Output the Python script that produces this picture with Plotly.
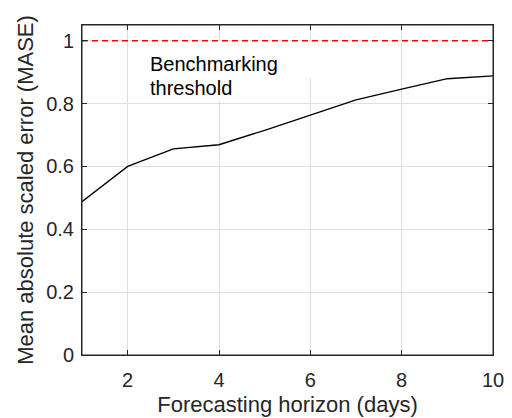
import plotly.graph_objects as go

horizon = [1, 2, 3, 4, 5, 6, 7, 8, 9, 10]
mase = [0.488, 0.600, 0.656, 0.669, 0.715, 0.764, 0.812, 0.846, 0.879, 0.888]
threshold = 1.0
x_ticks = [2, 4, 6, 8, 10]
y_ticks = [0, 0.2, 0.4, 0.6, 0.8, 1]
y_tick_labels = ["0", "0.2", "0.4", "0.6", "0.8", "1"]

FONT = "Liberation Sans, Arial, Helvetica, sans-serif"
AX = "#262626"
GRID = "#dfdfdf"

fig = go.Figure()
fig.add_trace(go.Scatter(x=[1, 10], y=[threshold, threshold], mode="lines",
                         line=dict(color="#ff0000", width=1.5, dash="6px,4px"),
                         hoverinfo="skip", showlegend=False))
fig.add_trace(go.Scatter(x=horizon, y=mase, mode="lines",
                         line=dict(color="#000000", width=1.3),
                         showlegend=False))

# white background behind the label text (covers grid lines)
fig.add_shape(type="rect", xref="x", yref="y", x0=2.2, x1=6.3, y0=0.882, y1=0.994,
              fillcolor="white", line=dict(width=0), layer="between")
fig.add_shape(type="rect", xref="x", yref="y", x0=2.2, x1=4.6, y0=0.809, y1=0.882,
              fillcolor="white", line=dict(width=0), layer="between")
# axes box
fig.add_shape(type="rect", xref="paper", yref="paper", x0=0, x1=1, y0=0, y1=1,
              line=dict(color=AX, width=1), fillcolor="rgba(0,0,0,0)", layer="above")

fig.add_annotation(x=2.445, y=0.927, xref="x", yref="y", text="Benchmarking",
                   showarrow=False, xanchor="left", yanchor="middle",
                   font=dict(family=FONT, size=20, color="#000000"))
fig.add_annotation(x=2.445, y=0.850, xref="x", yref="y", text="threshold",
                   showarrow=False, xanchor="left", yanchor="middle",
                   font=dict(family=FONT, size=20, color="#000000"))

axis_common = dict(showline=True, linecolor=AX, linewidth=1, mirror="ticks",
                   ticks="inside", ticklen=5, tickcolor=AX, tickwidth=1,
                   showgrid=True, gridcolor=GRID, gridwidth=1, zeroline=False,
                   automargin=False,
                   tickfont=dict(family=FONT, size=20, color=AX))

fig.update_xaxes(range=[1, 10], tickvals=x_ticks, ticktext=[str(v) for v in x_ticks],
                 ticklabelstandoff=7,
                 title=dict(text="Forecasting horizon (days)", standoff=6,
                            font=dict(family=FONT, size=22, color=AX)),
                 **axis_common)
fig.update_yaxes(range=[0, 1.05], tickvals=y_ticks, ticktext=y_tick_labels,
                 ticklabelstandoff=3,
                 title=dict(text="Mean absolute scaled error (MASE)", standoff=6,
                            font=dict(family=FONT, size=22, color=AX)),
                 **axis_common)

# page body has an 8px default margin, so the figure is 8px smaller and margins shifted
fig.update_layout(width=504, height=410, margin=dict(l=74, r=19, t=17, b=63),
                  plot_bgcolor="white", paper_bgcolor="white")

fig.write_html("out.html")
